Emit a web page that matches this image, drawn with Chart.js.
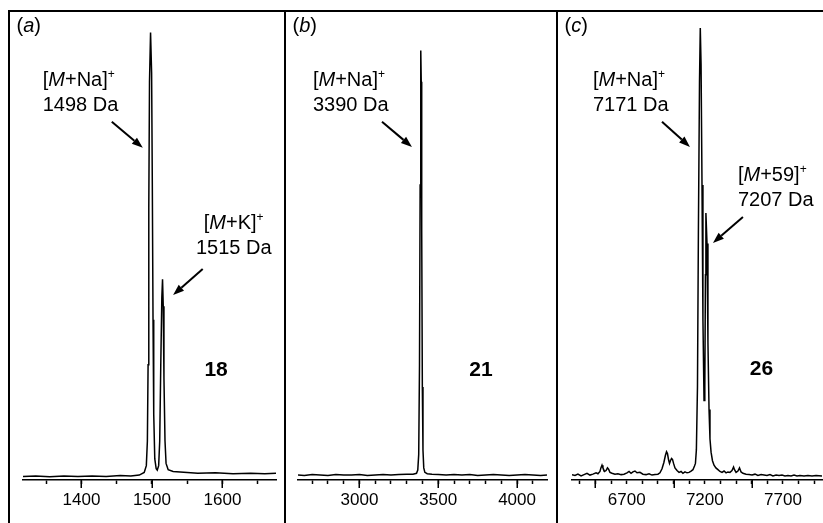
<!DOCTYPE html>
<html>
<head>
<meta charset="utf-8">
<script src="https://cdn.jsdelivr.net/npm/chart.js@4.4.0/dist/chart.umd.min.js"></script>
<style>
  html, body { margin: 0; padding: 0; background: #fff; }
  body { width: 823px; height: 523px; overflow: hidden; position: relative; }
  .rule { position: absolute; background: #000; }
  .panel { position: absolute; top: 12px; height: 511px; }
</style>
</head>
<body>
<div class="rule" style="left:8px; top:10px; width:815px; height:2px;"></div>
<div class="rule" style="left:8px; top:10px; width:2px; height:513px;"></div>
<div class="rule" style="left:284px; top:10px; width:2px; height:513px;"></div>
<div class="rule" style="left:556px; top:10px; width:2px; height:513px;"></div>
<div class="panel" style="left:10px; width:274px;"><canvas id="spec-a"></canvas></div>
<div class="panel" style="left:286px; width:270px;"><canvas id="spec-b"></canvas></div>
<div class="panel" style="left:558px; width:265px;"><canvas id="spec-c"></canvas></div>
<script>
// (a) compound 18
const massA = [1317, 1335, 1355, 1375, 1395, 1415, 1435, 1455, 1470, 1482,
               1489, 1492, 1493.5, 1494.5, 1495.5, 1496.5, 1498, 1499.5, 1500.5, 1501.5,
               1502.5, 1504, 1506, 1507.5, 1509.5, 1511, 1512.5, 1514, 1515, 1516,
               1517, 1518.5, 1520, 1523, 1530, 1545, 1565, 1590, 1615, 1640,
               1660, 1676];
const intensityA = [0.1, 0.2, 0.0, 0.2, 0.1, 0.2, 0.1, 0.3, 0.2, 0.4,
                    1.0, 2.5, 8, 25, 60, 88, 99, 90, 65, 35,
                    14, 4, 1.8, 1.5, 2.5, 8, 25, 40, 44, 38,
                    22, 8, 3, 1.6, 1.2, 1.0, 0.8, 0.9, 0.7, 0.8,
                    0.7, 0.8];
const ticksA = [1350, 1400, 1450, 1500, 1550, 1600, 1650];
const majorA = [1400, 1500, 1600];
const labelsA = [1400, 1500, 1600];

// (b) compound 21
const massB = [2610, 2650, 2700, 2750, 2800, 2850, 2900, 2950, 3000, 3050,
               3100, 3150, 3200, 3250, 3300, 3340, 3362, 3370, 3376, 3381,
               3385, 3388, 3390, 3392, 3395, 3399, 3403, 3408, 3415, 3430,
               3460, 3500, 3550, 3600, 3650, 3700, 3750, 3800, 3850, 3900,
               3950, 4000, 4050, 4100, 4150, 4190];
const intensityB = [0.4, 0.3, 0.5, 0.4, 0.3, 0.5, 0.4, 0.4, 0.5, 0.3,
                    0.4, 0.5, 0.4, 0.5, 0.6, 0.6, 0.8, 1.5, 5, 25,
                    65, 90, 95, 88, 55, 20, 6, 2, 1, 0.7,
                    0.6, 0.5, 0.4, 0.5, 0.4, 0.5, 0.3, 0.4, 0.5, 0.4,
                    0.3, 0.4, 0.5, 0.4, 0.3, 0.4];
const ticksB = [2700, 2800, 2900, 3000, 3100, 3200, 3300, 3400, 3500, 3600, 3700, 3800, 3900, 4000, 4100];
const majorB = [3000, 3500, 4000];
const labelsB = [3000, 3500, 4000];

// (c) compound 26
const massC = [6350, 6369, 6388, 6408, 6427, 6446, 6465, 6484, 6504, 6516,
               6529, 6535, 6542, 6548, 6558, 6568, 6577, 6584, 6593, 6606,
               6625, 6644, 6664, 6683, 6702, 6715, 6728, 6740, 6753, 6766,
               6785, 6804, 6824, 6843, 6862, 6881, 6900, 6913, 6926, 6938,
               6948, 6955, 6961, 6968, 6974, 6980, 6987, 6993, 7000, 7009,
               7022, 7035, 7048, 7060, 7073, 7086, 7099, 7112, 7124, 7134,
               7140, 7146, 7153, 7159, 7166, 7171, 7176, 7182, 7188, 7195,
               7200, 7204, 7207, 7214, 7220, 7227, 7233, 7240, 7249, 7259,
               7271, 7284, 7297, 7310, 7323, 7336, 7348, 7361, 7374, 7384,
               7390, 7400, 7412, 7422, 7432, 7444, 7464, 7483, 7502, 7521,
               7540, 7560, 7579, 7598, 7617, 7636, 7656, 7675, 7694, 7713,
               7732, 7752, 7771, 7790, 7809, 7835, 7860, 7886, 7912, 7950];
const intensityC = [0.5, 0.3, 0.6, 0.2, 0.5, 0.8, 0.4, 0.6, 0.9, 0.7,
                    1.2, 2.0, 2.6, 2.0, 1.2, 1.4, 2.0, 1.7, 1.0, 0.8,
                    0.6, 0.7, 0.5, 0.6, 0.9, 1.2, 0.8, 1.1, 1.3, 0.9,
                    1.0, 0.6, 0.5, 0.7, 0.4, 0.5, 0.6, 0.9, 1.8, 3.2,
                    4.8, 5.6, 5.2, 3.8, 3.0, 3.6, 4.1, 3.9, 3.0, 2.0,
                    1.4, 1.0, 1.2, 0.8, 1.1, 0.9, 1.0, 1.3, 1.6, 2.4,
                    3.0, 6.0, 20, 55, 88, 100, 92, 65, 35, 17,
                    20, 45, 58.8, 52, 30, 15, 8.5, 5.5, 3.6, 2.6,
                    2.0, 1.6, 1.2, 1.0, 1.3, 0.9, 1.1, 1.0, 1.4, 2.2,
                    1.6, 1.0, 1.3, 2.0, 1.1, 0.8, 0.6, 0.5, 0.4, 0.6,
                    0.3, 0.5, 0.4, 0.3, 0.5, 0.2, 0.4, 0.3, 0.4, 0.2,
                    0.3, 0.2, 0.4, 0.2, 0.3, 0.2, 0.3, 0.2, 0.3, 0.2];
const ticksC = [6400, 6500, 6600, 6700, 6800, 6900, 7000, 7100, 7200, 7300, 7400, 7500, 7600, 7700, 7800, 7900];
const majorC = [6500, 7000, 7500];
const labelsC = [6700, 7200, 7700];

const FONT = '"Liberation Sans", Arial, Helvetica, sans-serif';

// "[M+X]+" as styled runs
function ion(adduct) {
  return [{ t: '[' }, { t: 'M', it: true }, { t: '+' + adduct + ']' }, { t: '+', sup: true }];
}

function runFont(r, size) {
  return (r.it ? 'italic ' : '') + (r.bold ? 'bold ' : '') + (r.sup ? Math.round(size * 0.62) : size) + 'px ' + FONT;
}

function drawRuns(ctx, runs, x, y, align, size) {
  const widths = runs.map(r => { ctx.font = runFont(r, size); return ctx.measureText(r.t).width; });
  const total = widths.reduce((a, b) => a + b, 0);
  let cx = align === 'center' ? x - total / 2 : x;
  runs.forEach((r, i) => {
    ctx.font = runFont(r, size);
    ctx.fillText(r.t, cx, r.sup ? y - size * 0.42 : y);
    cx += widths[i];
  });
}

function drawArrow(ctx, x0, y0, x1, y1) {
  const ang = Math.atan2(y1 - y0, x1 - x0);
  const len = 11, half = 4;
  const bx = x1 - Math.cos(ang) * len, by = y1 - Math.sin(ang) * len;
  ctx.beginPath();
  ctx.moveTo(x0, y0);
  ctx.lineTo(bx, by);
  ctx.lineWidth = 2;
  ctx.stroke();
  ctx.beginPath();
  ctx.moveTo(x1, y1);
  ctx.lineTo(bx + Math.sin(ang) * half, by - Math.cos(ang) * half);
  ctx.lineTo(bx - Math.sin(ang) * half, by + Math.cos(ang) * half);
  ctx.closePath();
  ctx.fill();
}

// long ticks, panel tag, peak labels with arrows, compound number
const decorPlugin = {
  id: 'decor',
  afterDraw(chart, args, opts) {
    const { ctx, chartArea, scales: { x, y } } = chart;
    ctx.save();
    ctx.strokeStyle = '#000';
    ctx.fillStyle = '#000';
    ctx.lineWidth = 1.5;
    opts.major.forEach(v => {
      const px = Math.round(x.getPixelForValue(v)) + 0.25;
      ctx.beginPath();
      ctx.moveTo(px, chartArea.bottom);
      ctx.lineTo(px, chartArea.bottom + 8);
      ctx.stroke();
    });
    ctx.textBaseline = 'alphabetic';
    drawRuns(ctx, [{ t: '(' }, { t: opts.tag, it: true }, { t: ')' }], 6.5, 20, 'left', 20);
    opts.notes.forEach(n => {
      const px = x.getPixelForValue(n.m), py = y.getPixelForValue(n.v);
      n.lines.forEach((runs, i) => drawRuns(ctx, runs, px, py + i * 25, n.align, 20));
    });
    opts.arrows.forEach(a => {
      drawArrow(ctx, x.getPixelForValue(a.from[0]), y.getPixelForValue(a.from[1]),
                x.getPixelForValue(a.to[0]), y.getPixelForValue(a.to[1]));
    });
    drawRuns(ctx, [{ t: opts.number.t, bold: true }], x.getPixelForValue(opts.number.m),
             y.getPixelForValue(opts.number.v), 'center', 21);
    ctx.restore();
  }
};

function makeSpectrum(id, mass, intensity, range, tickVals, labelVals, pad, decor) {
  return new Chart(document.getElementById(id), {
    type: 'line',
    data: {
      datasets: [{
        data: mass.map((m, i) => ({ x: m, y: intensity[i] })),
        borderColor: '#000',
        borderWidth: 1.5,
        pointRadius: 0,
        tension: 0,
        fill: false
      }]
    },
    options: {
      responsive: true,
      maintainAspectRatio: false,
      animation: false,
      events: [],
      layout: { padding: { left: pad[0], right: pad[1], top: 16, bottom: 6.6 } },
      plugins: { legend: { display: false }, tooltip: { enabled: false }, decor: decor },
      scales: {
        x: {
          type: 'linear',
          min: range[0],
          max: range[1],
          border: { display: true, color: '#000', width: 1.5 },
          grid: { display: true, drawOnChartArea: false, drawTicks: true, tickLength: 4, tickColor: '#000', tickWidth: 1.5 },
          afterBuildTicks: s => { s.ticks = tickVals.map(v => ({ value: v })); },
          ticks: {
            autoSkip: false,
            maxRotation: 0,
            padding: 6,
            color: '#000',
            font: { family: FONT, size: 17 },
            callback: v => labelVals.includes(v) ? String(v) : ''
          }
        },
        y: { display: false, min: -0.7, max: 100 }
      }
    },
    plugins: [decorPlugin]
  });
}

makeSpectrum('spec-a', massA, intensityA, [1317, 1676], ticksA, labelsA, [13, 8], {
  tag: 'a', major: majorA,
  notes: [
    { lines: [ion('Na'), [{ t: '1498 Da' }]], m: 1345, v: 87.1, align: 'left' },
    { lines: [ion('K'), [{ t: '1515 Da' }]], m: 1616, v: 55.2, align: 'center' }
  ],
  arrows: [
    { from: [1443, 79.1], to: [1487, 73.3] },
    { from: [1572, 46.3], to: [1530, 40.5] }
  ],
  number: { t: '18', m: 1591, v: 22.5 }
});

makeSpectrum('spec-b', massB, intensityB, [2610, 4190], ticksB, labelsB, [12, 9], {
  tag: 'b', major: majorB,
  notes: [
    { lines: [ion('Na'), [{ t: '3390 Da' }]], m: 2705, v: 87.1, align: 'left' }
  ],
  arrows: [
    { from: [3143, 79.1], to: [3333, 73.5] }
  ],
  number: { t: '21', m: 3771, v: 22.5 }
});

makeSpectrum('spec-c', massC, intensityC, [6350, 7950], ticksC, labelsC, [14, 1], {
  tag: 'c', major: majorC,
  notes: [
    { lines: [ion('Na'), [{ t: '7171 Da' }]], m: 6484, v: 87.1, align: 'left' },
    { lines: [ion('59'), [{ t: '7207 Da' }]], m: 7412, v: 65.9, align: 'left' }
  ],
  arrows: [
    { from: [6926, 79.1], to: [7105, 73.5] },
    { from: [7444, 57.9], to: [7252, 52.1] }
  ],
  number: { t: '26', m: 7563, v: 22.7 }
});
</script>
</body>
</html>
